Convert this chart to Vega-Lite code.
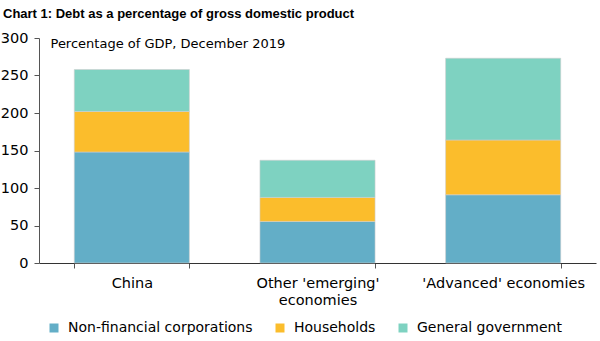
{
  "$schema": "https://vega.github.io/schema/vega-lite/v6.json",
  "autosize": "none",
  "width": 557,
  "height": 225,
  "padding": {"left": 39, "top": 38, "right": 4, "bottom": 78},
  "background": "white",
  "config": {
    "font": "DejaVu Sans",
    "view": {"stroke": null}
  },
  "title": {
    "text": "Chart 1: Debt as a percentage of gross domestic product",
    "anchor": "start",
    "frame": "group",
    "dx": -36,
    "offset": 9,
    "fontSize": 13,
    "fontWeight": "bold",
    "font": "Liberation Sans",
    "color": "#000000"
  },
  "data": {
    "values": [
      {"group": "China", "sector": "Non-financial corporations", "o": 1, "value": 148},
      {"group": "China", "sector": "Households", "o": 2, "value": 54},
      {"group": "China", "sector": "General government", "o": 3, "value": 56},
      {"group": "Other 'emerging' economies", "sector": "Non-financial corporations", "o": 1, "value": 55.5},
      {"group": "Other 'emerging' economies", "sector": "Households", "o": 2, "value": 32},
      {"group": "Other 'emerging' economies", "sector": "General government", "o": 3, "value": 49.5},
      {"group": "'Advanced' economies", "sector": "Non-financial corporations", "o": 1, "value": 91},
      {"group": "'Advanced' economies", "sector": "Households", "o": 2, "value": 73},
      {"group": "'Advanced' economies", "sector": "General government", "o": 3, "value": 109}
    ]
  },
  "mark": {"type": "bar", "stroke": "#cfcfcf", "strokeWidth": 0.6},
  "encoding": {
    "x": {
      "field": "group",
      "type": "nominal",
      "sort": ["China", "Other 'emerging' economies", "'Advanced' economies"],
      "scale": {"paddingInner": 0.38, "paddingOuter": 0.19},
      "axis": {
        "title": null,
        "labelAngle": 0,
        "labelFontSize": 14.5,
        "labelColor": "#000000",
        "labelPadding": 8,
        "labelLineHeight": 17,
        "labelLimit": 300,
        "labelExpr": "datum.label == \"Other 'emerging' economies\" ? [\"Other 'emerging'\", \"economies\"] : datum.label",
        "tickBand": "extent",
        "tickSize": 5,
        "tickColor": "#555555",
        "domainColor": "#333333",
        "domainWidth": 1
      }
    },
    "y": {
      "field": "value",
      "type": "quantitative",
      "stack": "zero",
      "scale": {"domain": [0, 300], "nice": false},
      "axis": {
        "values": [0, 50, 100, 150, 200, 250, 300],
        "grid": false,
        "labelFontSize": 14.5,
        "labelColor": "#000000",
        "labelPadding": 6,
        "tickSize": 5,
        "tickColor": "#555555",
        "domainColor": "#555555",
        "title": "Percentage of GDP, December 2019",
        "titleAngle": 0,
        "titleAlign": "left",
        "titleBaseline": "middle",
        "titleX": 11,
        "titleY": 5,
        "titleFontSize": 13,
        "titleFontWeight": "normal",
        "titleColor": "#000000"
      }
    },
    "color": {
      "field": "sector",
      "type": "nominal",
      "scale": {
        "domain": ["Non-financial corporations", "Households", "General government"],
        "range": ["#63AEC7", "#FBBD2C", "#7ED2C1"]
      },
      "legend": {
        "title": null,
        "orient": "none",
        "direction": "horizontal",
        "legendX": 8,
        "legendY": 283,
        "symbolType": "square",
        "symbolSize": 81,
        "symbolStrokeWidth": 0,
        "labelFontSize": 14,
        "labelLimit": 300,
        "labelColor": "#000000",
        "labelOffset": 7,
        "columnPadding": 20
      }
    },
    "order": {"field": "o", "type": "quantitative"}
  }
}
